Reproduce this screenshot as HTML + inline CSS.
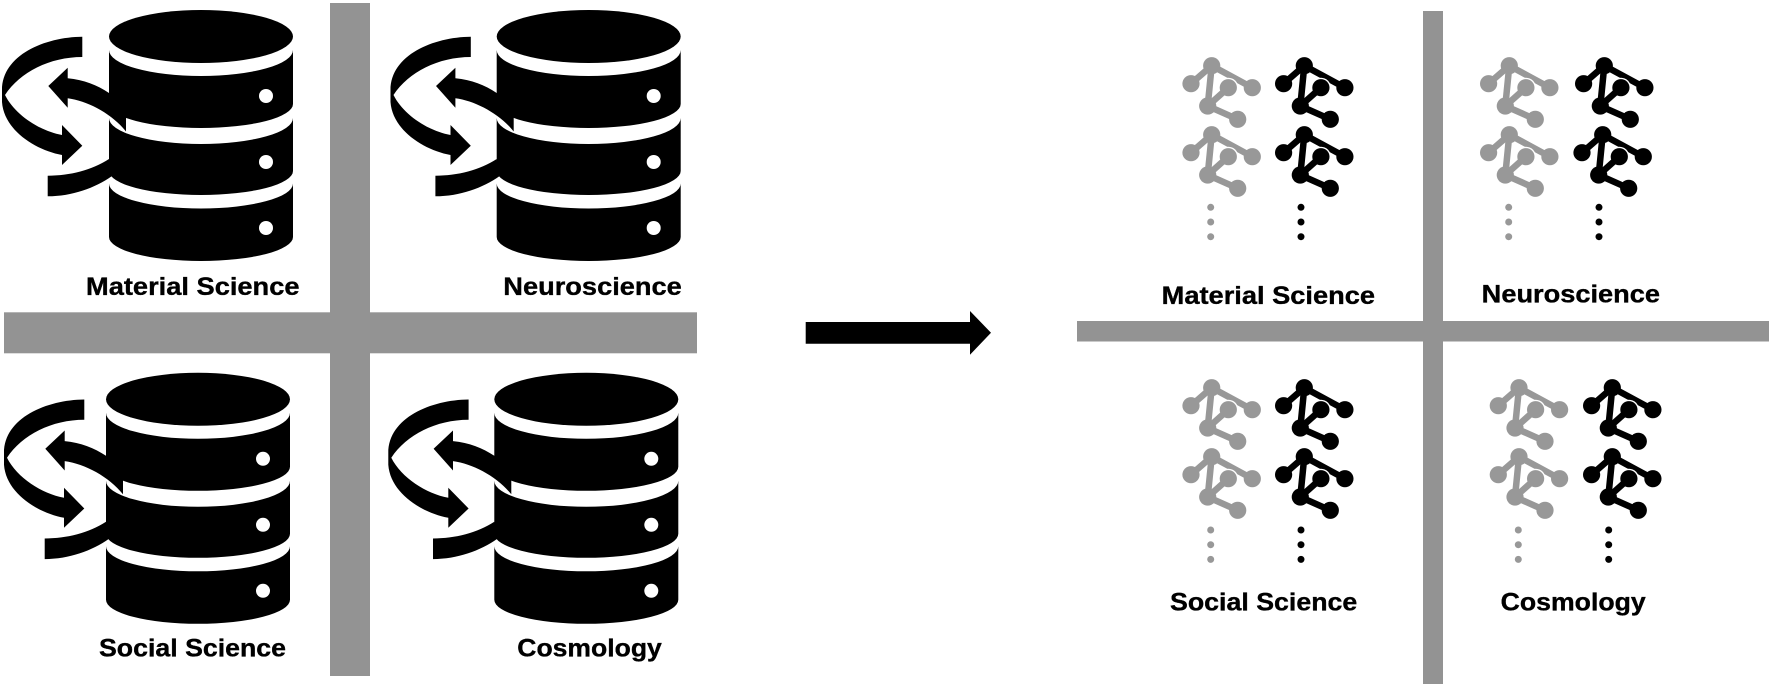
<!DOCTYPE html>
<html>
<head>
<meta charset="utf-8">
<style>
html,body{margin:0;padding:0;background:#fff;width:1772px;height:688px;overflow:hidden}
svg{display:block}
text{font-family:"Liberation Sans",sans-serif;font-weight:700;font-size:25px;fill:#000;stroke:#000;stroke-width:.35px}
</style>
</head>
<body>
<svg width="1772" height="688" viewBox="0 0 1772 688" xmlns="http://www.w3.org/2000/svg">
<defs>
  <g id="db" fill="#000">
    <ellipse cx="201" cy="36.500" rx="92" ry="26.500"/>
    <path d="M109 50A92 26 0 0 0 293 50V104A92 24 0 0 1 109 104Z"/>
    <path d="M109 118A92 26 0 0 0 293 118V171A92 24 0 0 1 109 171Z"/>
    <path d="M109 183.500A92 25 0 0 0 293 183.500V237A92 24 0 0 1 109 237Z"/>
    <circle cx="266" cy="96" r="7" fill="#fff"/>
    <circle cx="266" cy="162" r="7" fill="#fff"/>
    <circle cx="266" cy="228" r="7" fill="#fff"/>
    <path d="M67.700 67.700L48.300 86L67.700 107.700V98.300C88 101 112 114 126 131.500V100L109 93C97 85 84 80 67.700 78.300Z"/>
    <path d="M47.700 175.700C70 175.700 92 170 109 159L112 176C95 188 72 196.300 47.700 196.300Z"/>
  </g>
  <g id="rib" fill="#000">
    <path d="M82.300 36.700C45 37 2 55 2 90V102C4 130 35 150 62 155V165L82.300 145.700L62 125V135C40 131 15 115 5 95C20 72 50 57 82.300 57Z"/>
  </g>
  <g id="gr" fill="currentColor" stroke="none">
    <path d="M0 0L-20.700 18M0 0L40.600 22M0 0L-4 40.300L26 53.600" fill="none" stroke="currentColor" stroke-width="6.500"/>
    <circle cx="16.600" cy="22" r="10" fill="#fff"/>
    <path d="M-4 40.300L16.600 22" fill="none" stroke="currentColor" stroke-width="6.500"/>
    <circle cx="0" cy="0" r="8.600"/>
    <circle cx="-20.700" cy="18" r="8.600"/>
    <circle cx="40.600" cy="22" r="8.600"/>
    <circle cx="16.600" cy="22" r="8.600"/>
    <circle cx="-4" cy="40.300" r="8.600"/>
    <circle cx="26" cy="53.600" r="8.600"/>
  </g>
  <g id="dots" fill="currentColor">
    <circle cx="0" cy="0" r="3.500"/>
    <circle cx="0" cy="14.700" r="3.500"/>
    <circle cx="0" cy="29.400" r="3.500"/>
  </g>
</defs>

<!-- left cross -->
<rect x="4" y="312.300" width="693" height="41" fill="#939393"/>
<rect x="330" y="3" width="40" height="673" fill="#939393"/>
<!-- right cross -->
<rect x="1077" y="321" width="692" height="20.500" fill="#939393"/>
<rect x="1423" y="11" width="20" height="673" fill="#939393"/>

<!-- databases -->
<use href="#db"/><use href="#rib"/>
<use href="#db" x="387.700"/><use href="#rib" x="388.500"/>
<use href="#db" x="-3" y="362.800"/><use href="#rib" x="2" y="362.800"/>
<use href="#db" x="385.300" y="362.800"/><use href="#rib" x="386.300" y="362.800"/>

<!-- left labels -->
<text x="86" y="295" textLength="213.500" lengthAdjust="spacingAndGlyphs">Material Science</text>
<text x="503.300" y="295" textLength="178.500" lengthAdjust="spacingAndGlyphs">Neuroscience</text>
<text x="99" y="656.700" textLength="187" lengthAdjust="spacingAndGlyphs">Social Science</text>
<text x="517.300" y="656.700" textLength="144.500" lengthAdjust="spacingAndGlyphs">Cosmology</text>

<!-- big arrow -->
<path d="M805.700 322H970V311L991 332.800L970 354.700V343.700H805.700Z" fill="#000"/>

<!-- graphs -->
<g color="#989898">
  <use href="#gr" x="1211.700" y="65.700"/><use href="#gr" x="1211.700" y="134.700"/><use href="#dots" x="1210.700" y="207.300"/>
  <use href="#gr" x="1509.300" y="65.700"/><use href="#gr" x="1509.300" y="134.700"/><use href="#dots" x="1508.700" y="207.300"/>
  <use href="#gr" x="1211.700" y="387.700"/><use href="#gr" x="1211.700" y="456.700"/><use href="#dots" x="1210.700" y="530"/>
  <use href="#gr" x="1519" y="387.700"/><use href="#gr" x="1519" y="456.700"/><use href="#dots" x="1518.300" y="530"/>
</g>
<g color="#000">
  <use href="#gr" x="1304.300" y="65.700"/><use href="#gr" x="1304.300" y="134.700"/><use href="#dots" x="1301" y="207.300"/>
  <use href="#gr" x="1604.300" y="65.700"/><use href="#gr" x="1602.700" y="134.700"/><use href="#dots" x="1599" y="207.300"/>
  <use href="#gr" x="1304.300" y="387.700"/><use href="#gr" x="1304.300" y="456.700"/><use href="#dots" x="1301" y="530"/>
  <use href="#gr" x="1612.300" y="387.700"/><use href="#gr" x="1612.300" y="456.700"/><use href="#dots" x="1608.700" y="530"/>
</g>

<!-- right labels -->
<text x="1161.700" y="304" textLength="213.300" lengthAdjust="spacingAndGlyphs">Material Science</text>
<text x="1481.700" y="302.700" textLength="178.300" lengthAdjust="spacingAndGlyphs">Neuroscience</text>
<text x="1170" y="610.700" textLength="187.300" lengthAdjust="spacingAndGlyphs">Social Science</text>
<text x="1500.700" y="610.700" textLength="145" lengthAdjust="spacingAndGlyphs">Cosmology</text>
</svg>
</body>
</html>
